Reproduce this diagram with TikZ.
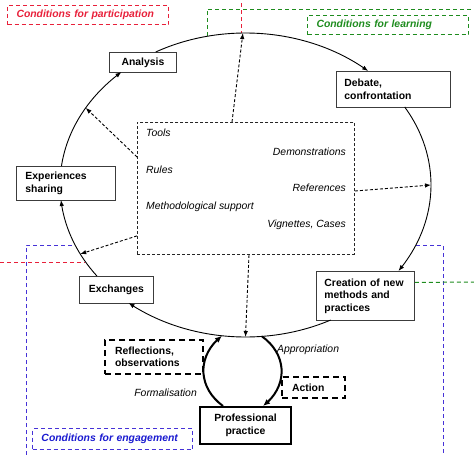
\documentclass[tikz,border=0pt]{standalone}
\usepackage{fontspec}
\setmainfont{Liberation Sans}
\usetikzlibrary{arrows.meta,bending,calc}
\definecolor{cred}{RGB}{232,32,58}
\definecolor{cgreen}{RGB}{30,140,30}
\definecolor{cbluet}{RGB}{26,26,208}
\definecolor{cbluel}{RGB}{70,50,215}
\definecolor{boxc}{RGB}{60,60,60}
\tikzset{
  lbl/.style={font=\fontsize{10.4}{12.5}\selectfont\bfseries, draw=boxc, line width=0.9pt, fill=white,
    inner ysep=0pt, align=left, anchor=north west},
  dlbl/.style={lbl, draw=black, line width=2pt, dash pattern=on 6pt off 4pt},
  tlbl/.style={lbl, draw=black, line width=2pt},
  cond/.style={font=\fontsize{10.4}{12.5}\selectfont\bfseries\itshape, line width=1pt,
    dash pattern=on 4pt off 3pt, inner ysep=0pt, inner xsep=9pt, align=left, anchor=north west},
  itxt/.style={font=\fontsize{10.4}{12.5}\selectfont\itshape, inner sep=0pt},
  arr/.style={line width=0.9pt, -{Latex[length=6pt,width=4.5pt]}},
  darr/.style={line width=0.9pt, dash pattern=on 3pt off 2pt, -{Latex[length=6pt,width=4.5pt]}},
  tarr/.style={line width=2pt, -{Latex[length=7pt,width=6pt]}},
  bline/.style={line width=1pt, dash pattern=on 4pt off 3pt},
}
\begin{document}
\begin{tikzpicture}[x=1pt,y=1pt]
\useasboundingbox (0,0) rectangle (474,-455);
\coordinate (C) at (245.5,-185);

% condition lines
\draw[bline, cgreen] (207,-36) -- (207,-9) -- (474,-9);
\draw[bline, cred] (241,-3) -- (241,-33);
\draw[bline, cred] (0,-262) -- (85,-262);
\draw[bline, cbluel] (26,-455) -- (26,-245) -- (75,-245);
\draw[bline, cbluel] (416,-245) -- (443,-245) -- (443,-455);

% condition labels
\node[cond, draw=cred, text=cred, text width=143pt, minimum height=19pt] (cpart) at (7,-5) {Conditions for participation};
\node[cond, draw=cgreen, text=cgreen, text width=143pt, minimum height=19pt] (clearn) at (307,-15) {Conditions for learning};
\node[cond, draw=cbluel, text=cbluet, text width=142pt, minimum height=21pt] (ceng) at (32,-428) {Conditions for engagement};

% boxes
\node[lbl, text width=51pt, inner xsep=8pt, minimum height=20pt, align=center] (ana) at (109,-52) {Analysis};
\node[lbl, text width=98pt, inner xsep=8pt, minimum height=36pt] (deb) at (336,-71) {Debate,\\confrontation};
\node[lbl, text width=81pt, inner xsep=9pt, minimum height=34pt] (exp) at (16,-166) {Experiences\\sharing};
\node[lbl, text width=58pt, inner xsep=8pt, minimum height=27pt, align=center] (exc) at (79,-276) {Exchanges};
\node[lbl, text width=82pt, inner xsep=8pt, minimum height=49pt] (cre) at (316,-271) {Creation of new\\methods and\\practices};
\node[dlbl, text width=78pt, inner xsep=10pt, minimum height=34pt] (ref) at (104,-339) {Reflections,\\observations};
\node[dlbl, text width=43pt, inner xsep=10pt, minimum height=21pt] (act) at (281,-376) {Action};
\node[tlbl, text width=75pt, inner xsep=8pt, minimum height=37pt, align=center] (pp) at (199,-406) {Professional\\practice};

\draw[bline, cgreen] ([yshift=13.5pt]cre.east) -- (474,-282);

% resources box
\node[draw=black!85, line width=0.9pt, dash pattern=on 3pt off 2pt, minimum width=217pt, minimum height=132pt,
  anchor=north west, inner sep=0pt] (res) at (137,-122) {};
\node[itxt, anchor=base west] (tools) at (146,-136) {Tools};
\node[itxt, anchor=base west] (rules) at (146,-173) {Rules};
\node[itxt, anchor=base west] (meth) at (146,-209) {Methodological support};
\node[itxt, anchor=base east] (demo) at (346,-155) {Demonstrations};
\node[itxt, anchor=base east] (refs) at (346,-191) {References};
\node[itxt, anchor=base east] (vign) at (346,-227) {Vignettes, Cases};

% ellipse points
\coordinate (a1) at ($(C)+(118.96:185.5pt and 152pt)$);
\coordinate (a2) at ($(C)+(30.88:185.5pt and 152pt)$);
\coordinate (a3) at ($(C)+(-62.65:185.5pt and 152pt)$);
\coordinate (a4) at ($(C)+(-143.22:185.5pt and 152pt)$);
\coordinate (a5) at ($(C)+(172.82:185.5pt and 152pt)$);
\draw[arr] (a1) arc[start angle=118.96, end angle=48.59, x radius=185.5pt, y radius=152pt];
\draw[arr] (a2) arc[start angle=30.88, end angle=-34.46, x radius=185.5pt, y radius=152pt];
\draw[arr] (a3) arc[start angle=-62.65, end angle=-129.08, x radius=185.5pt, y radius=152pt];
\draw[arr] (a4) arc[start angle=-143.22, end angle=-174.34, x radius=185.5pt, y radius=152pt];
\draw[arr] (a5) arc[start angle=172.82, end angle=131.98, x radius=185.5pt, y radius=152pt];

% dotted arrows
\coordinate (et) at ($(C)+(90.8:185.5pt and 152pt)$);
\coordinate (el1) at ($(C)+(149.5:185.5pt and 152pt)$);
\coordinate (el2) at ($(C)+(-153:185.5pt and 152pt)$);
\coordinate (er) at ($(C)+(0:185.5pt and 152pt)$);
\coordinate (eb) at ($(C)+(-90:185.5pt and 152pt)$);
\draw[darr] ([xshift=95pt]res.north west) -- (et);
\draw[darr] ([yshift=-35pt]res.north west) -- (el1);
\draw[darr] ([yshift=19pt]res.south west) -- (el2);
\draw[darr] ([yshift=-69pt]res.north east) -- (er);
\draw[darr] ([xshift=112pt]res.south west) -- (eb);

% thick curves
\coordinate (ebl) at ($(C)+(-97.28:185.5pt and 152pt)$);
\coordinate (ebr) at ($(C)+(-84.9:185.5pt and 152pt)$);
\draw[tarr] ([xshift=-22.5pt]pp.north) .. controls (197,-387) and (197,-355) .. (ebl);
\draw[tarr] (ebr) .. controls (288,-355) and (288,-387) .. ([xshift=17.5pt]pp.north);

\node[itxt, anchor=base west] (appr) at (277,-352) {Appropriation};
\node[itxt, anchor=base east] (form) at (197,-396) {Formalisation};
\end{tikzpicture}
\end{document}
